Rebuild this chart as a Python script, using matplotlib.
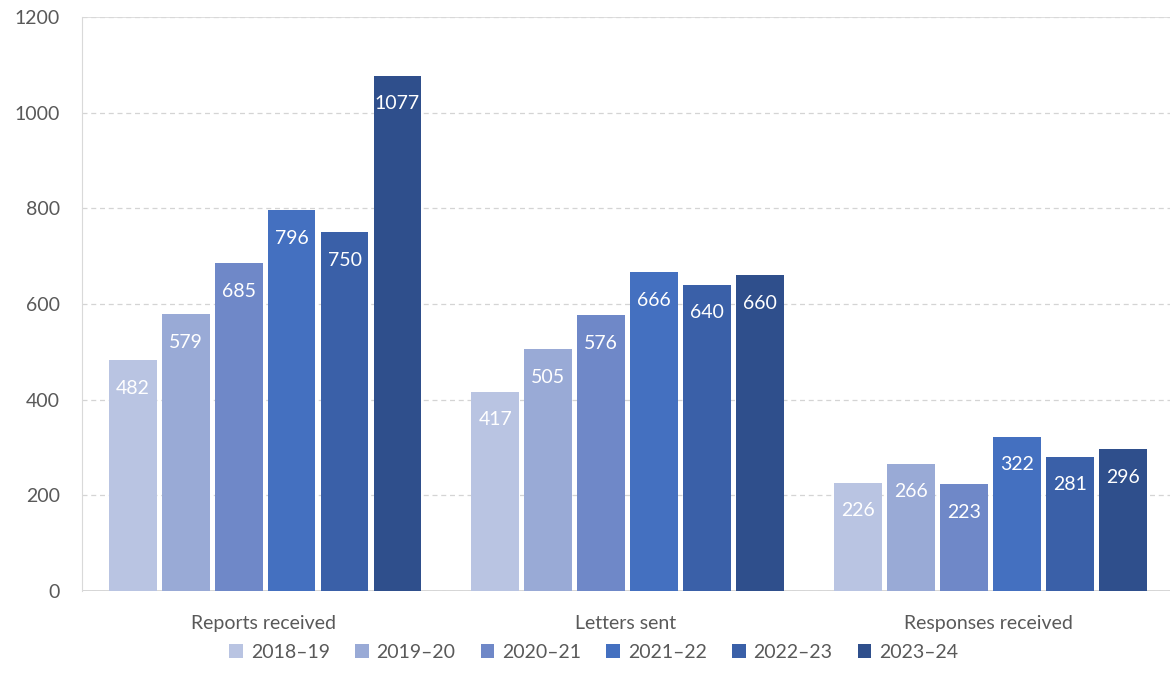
import numpy as np
import matplotlib.pyplot as plt

categories = ["Reports received", "Letters sent", "Responses received"]
years = ["2018\u201319", "2019\u201320", "2020\u201321", "2021\u201322", "2022\u201323", "2023\u201324"]
values = {
    "2018\u201319": [482, 417, 226],
    "2019\u201320": [579, 505, 266],
    "2020\u201321": [685, 576, 223],
    "2021\u201322": [796, 666, 322],
    "2022\u201323": [750, 640, 281],
    "2023\u201324": [1077, 660, 296],
}
colors = ["#B9C4E2", "#99AAD6", "#6F88C8", "#4470C0", "#3A60A8", "#2F4F8C"]

plt.rcParams["font.family"] = ["Lato", "DejaVu Sans"]

fig = plt.figure(figsize=(11.71, 6.87), dpi=100)
ax = fig.add_axes([0.070, 0.1397, 0.929, 0.8356])

x = np.arange(len(categories))
step = 0.146
width = 0.132
for i, (yr, c) in enumerate(zip(years, colors)):
    pos = x + (i - 2.5) * step + 0.005
    bars = ax.bar(pos, values[yr], width, color=c, label=yr, zorder=3)
    for b, v in zip(bars, values[yr]):
        ax.annotate(str(v), (b.get_x() + b.get_width() / 2, v),
                    xytext=(0, -28), textcoords="offset pixels",
                    ha="center", va="center", color="white", fontsize=14, zorder=4)

ax.set_xlim(-0.5, 2.5)
ax.set_ylim(0, 1200)
ax.set_yticks(range(0, 1201, 200))
ax.set_xticks(x)
ax.set_xticklabels(categories)
ax.tick_params(axis="both", length=0, colors="#595959", labelsize=14)
ax.tick_params(axis="x", pad=17)
ax.tick_params(axis="y", pad=16)

ax.yaxis.grid(True, linestyle=(0, (4, 3)), color="#D4D4D4", linewidth=0.9, zorder=0)
for s in ["top", "right", "bottom"]:
    ax.spines[s].set_visible(False)
ax.spines["left"].set_color("#D9D9D9")
ax.axhline(0, color="#D0D0D0", linewidth=1.2, zorder=2)
ax.axhline(1200, color="#D9D9D9", linewidth=1.2, zorder=2)

fig.legend(loc="lower center", bbox_to_anchor=(0.507, 0.013), ncol=6, frameon=False,
           fontsize=14, handlelength=0.7, handleheight=0.7, handletextpad=0.4,
           columnspacing=1.3, labelcolor="#595959")

fig.savefig("out.png", dpi=100)
